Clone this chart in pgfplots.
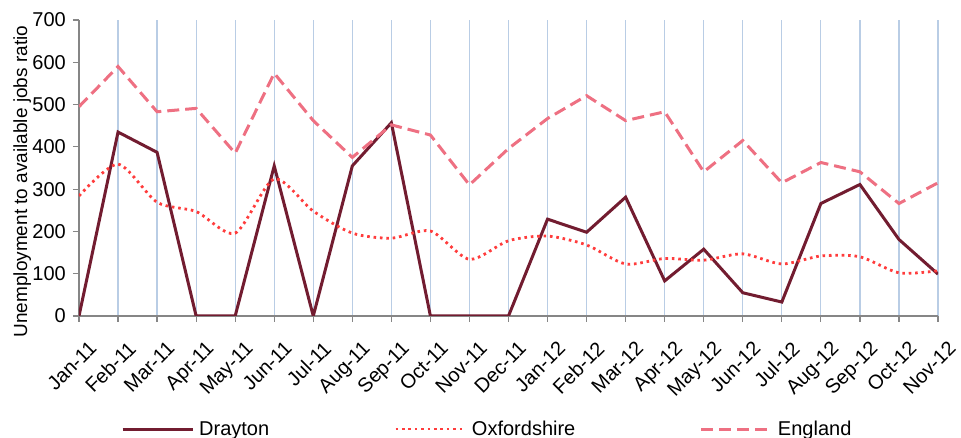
\documentclass[border=0pt]{standalone}
\usepackage{pgfplots}
\pgfplotsset{compat=1.18}
\usepackage{fontspec}
\setmainfont{Liberation Sans}
\definecolor{drayton}{RGB}{114,28,48}
\definecolor{oxon}{RGB}{255,60,60}
\definecolor{england}{RGB}{238,112,130}
\definecolor{gridblue}{RGB}{185,205,229}
\definecolor{axgray}{RGB}{134,134,134}
\begin{document}
\begin{tikzpicture}
\begin{axis}[
  at={(0,0)}, anchor=south west,
  scale only axis,
  width=859pt, height=296pt,
  xmin=0, xmax=22, ymin=0, ymax=700,
  ytick={0,100,...,700},
  xtick={0,...,22},
  xticklabels={Jan-11,Feb-11,Mar-11,Apr-11,May-11,Jun-11,Jul-11,Aug-11,Sep-11,Oct-11,Nov-11,Dec-11,
    Jan-12,Feb-12,Mar-12,Apr-12,May-12,Jun-12,Jul-12,Aug-12,Sep-12,Oct-12,Nov-12},
  axis x line*=bottom, axis y line*=left,
  axis line style={axgray, line width=1.5pt, -},
  tick style={axgray, line width=1.2pt},
  tick align=outside, major tick length=6pt,
  xmajorgrids, major x grid style={gridblue, line width=1.2pt},
  /pgf/number format/assume math mode=true,
  tick label style={font=\fontsize{20}{23}\selectfont},
  xticklabel style={xshift=9pt, yshift=-17pt, rotate=45, anchor=north east, inner sep=0.5pt},
  yticklabel style={inner sep=2pt, xshift=-5pt},
  ylabel={Unemployment to available jobs ratio},
  ylabel style={at={(axis description cs:-0.066,0.454)}, anchor=center,
    font=\fontsize{19}{22}\selectfont},
  legend columns=3,
  legend style={draw=none, fill=none, at={(axis description cs:0.0454,-0.382)}, anchor=west,
    font=\fontsize{20}{23}\selectfont,
    /tikz/every even column/.append style={column sep=0pt}},
  legend image code/.code={\draw[#1] (0pt,0pt) -- (70pt,0pt); \path (73pt,0pt);},
]
\addplot[drayton, line width=3pt] coordinates {
(0,0) (1,435) (2,387) (3,0) (4,0) (5,355) (6,0) (7,355) (8,457) (9,0) (10,0) (11,0)
(12,229) (13,198) (14,281) (15,83) (16,158) (17,55) (18,33) (19,266) (20,311) (21,181) (22,99)};
\addlegendentry{\makebox[193pt][l]{Drayton}}
\addplot[oxon, line width=2.8pt, dash pattern=on 2.6pt off 3.8pt, smooth, tension=0.45] coordinates {
(0,284) (1,359) (2,269) (3,247) (4,196) (5,324) (6,248) (7,196) (8,184) (9,201) (10,134) (11,178)
(12,189) (13,168) (14,123) (15,136) (16,132) (17,147) (18,123) (19,142) (20,140) (21,102) (22,107)};
\addlegendentry{\makebox[226pt][l]{Oxfordshire}}
\addplot[england, line width=3pt, dash pattern=on 12pt off 6pt] coordinates {
(0,495) (1,590) (2,483) (3,491) (4,385) (5,574) (6,462) (7,375) (8,452) (9,428) (10,310) (11,396)
(12,467) (13,521) (14,462) (15,483) (16,341) (17,415) (18,315) (19,363) (20,341) (21,266) (22,315)};
\addlegendentry{England}
\end{axis}
\pgfresetboundingbox
\path[use as bounding box] (-79pt,-122pt) rectangle (882pt,316pt);
\end{tikzpicture}
\end{document}
